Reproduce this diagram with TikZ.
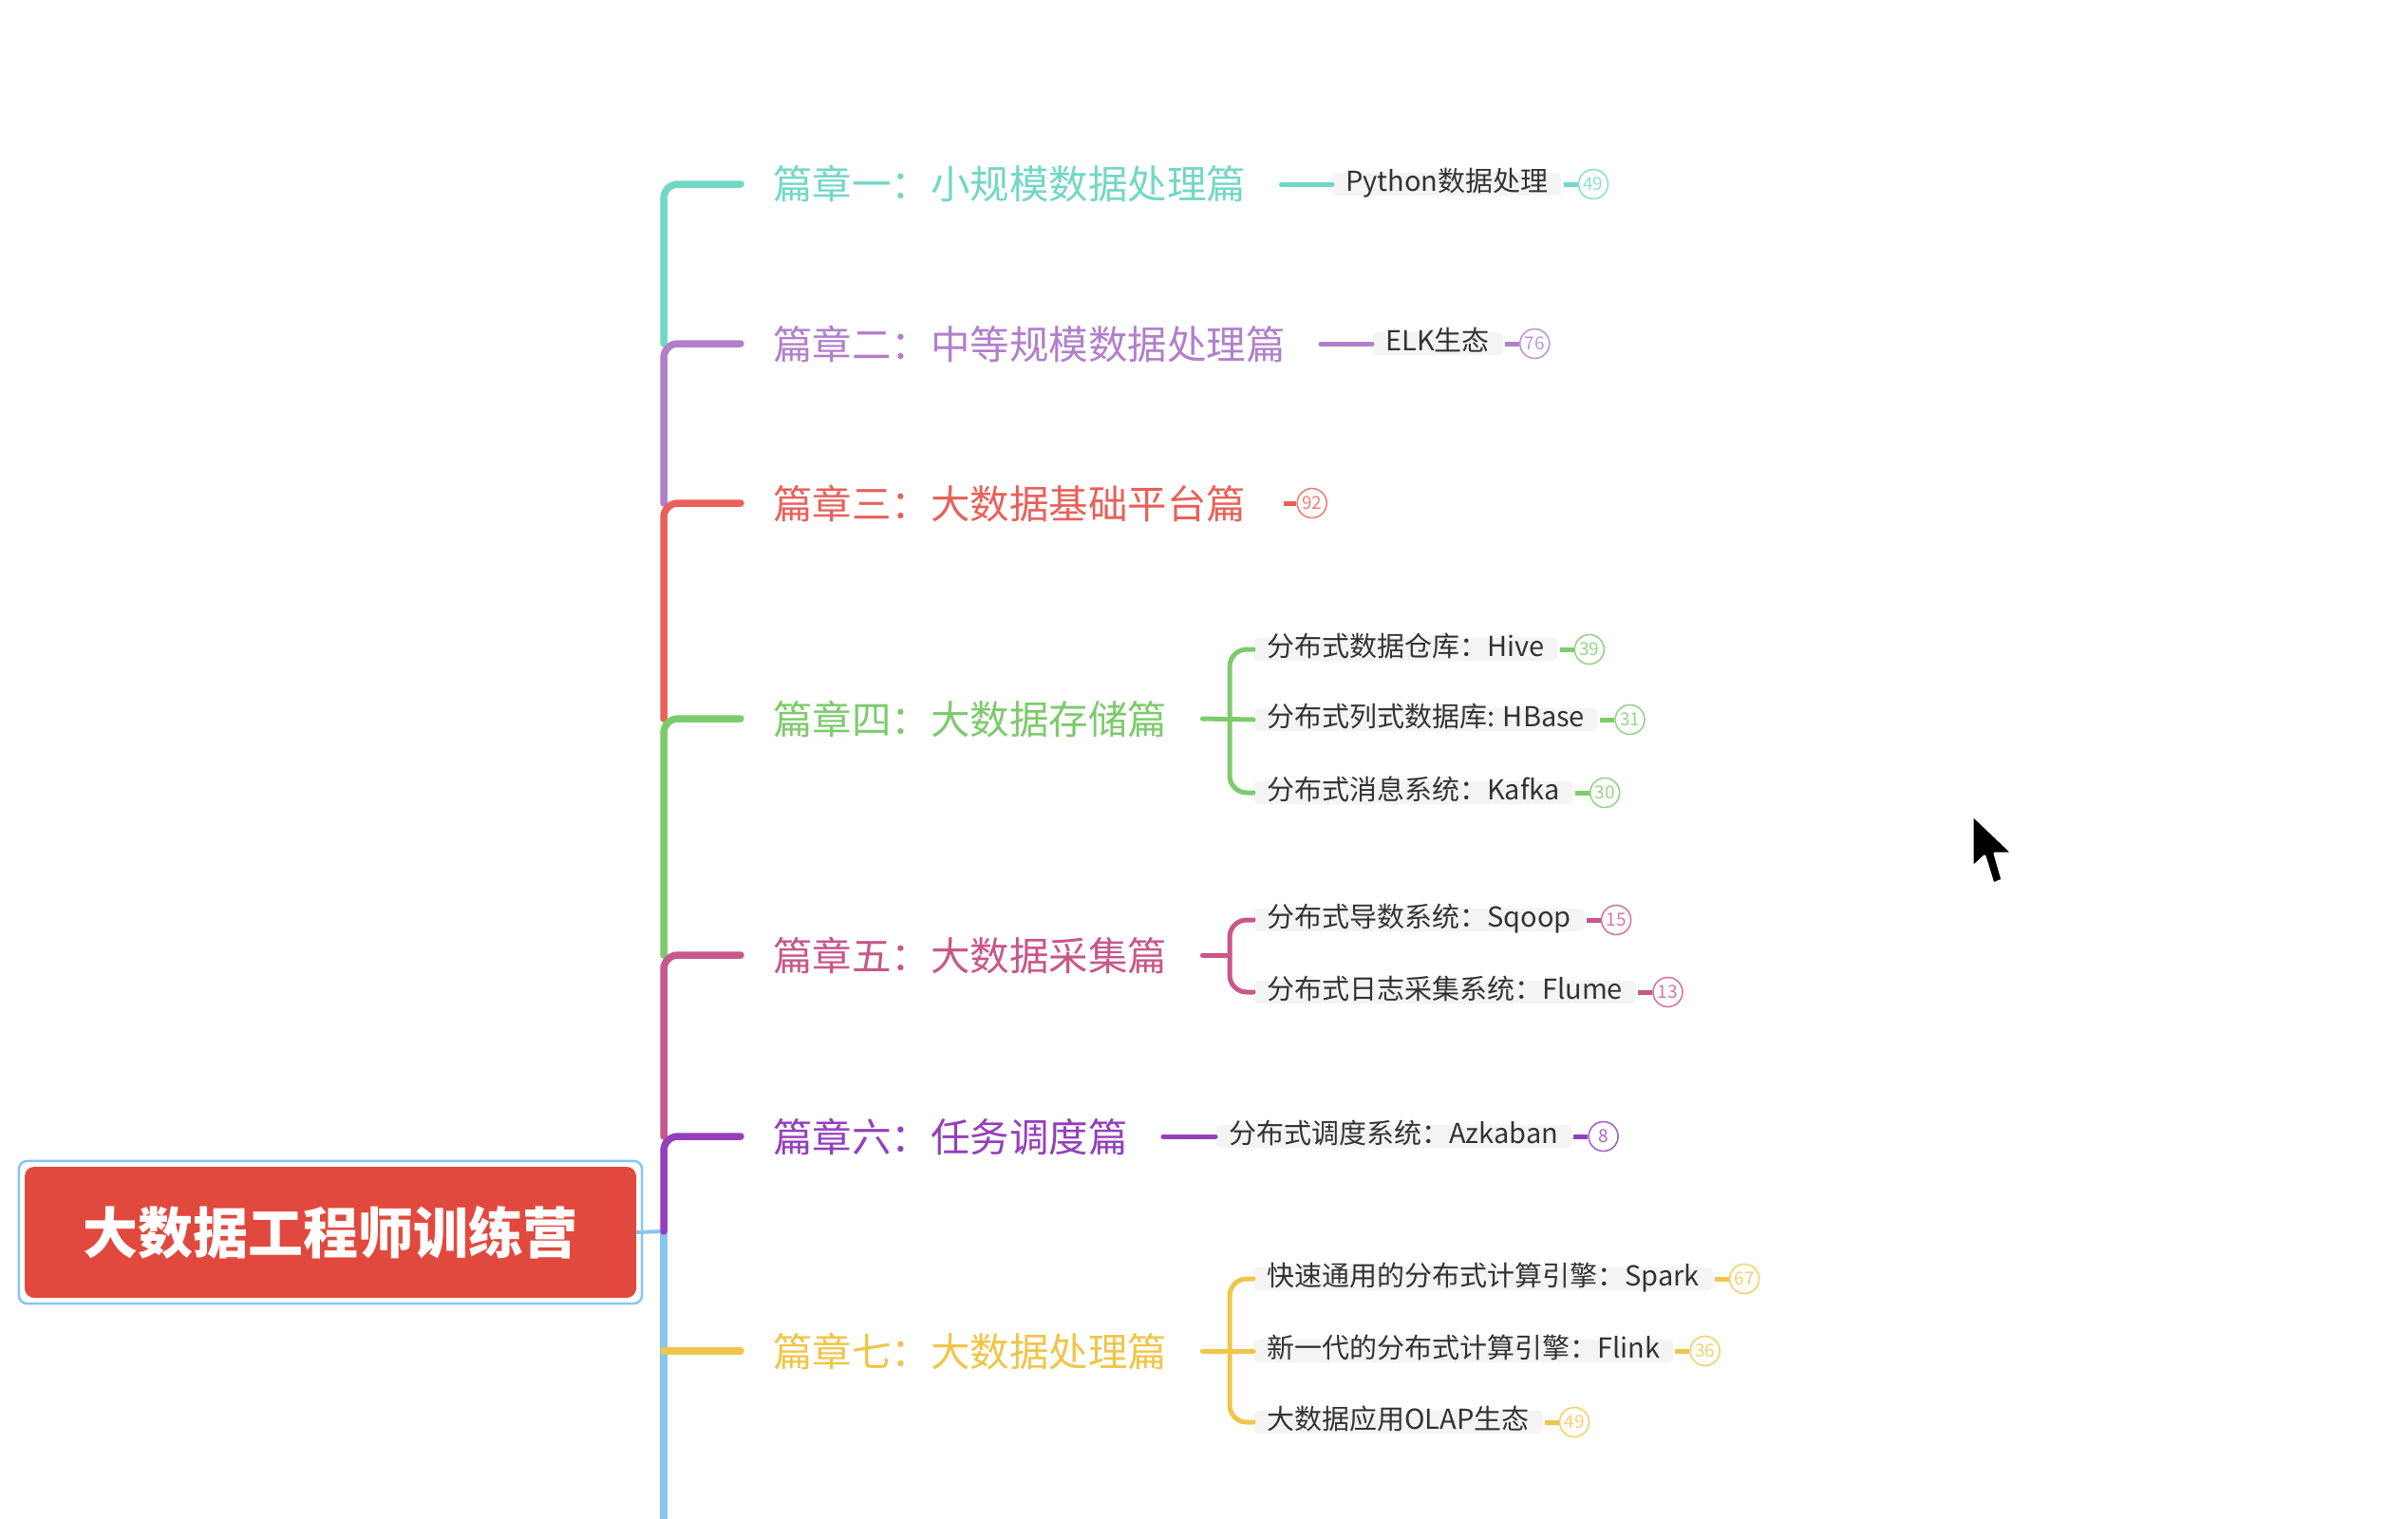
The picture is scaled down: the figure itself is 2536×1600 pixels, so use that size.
\documentclass[tikz,border=0pt]{standalone}
\usepackage{fontspec}
\newfontfamily\cjk{Noto Sans CJK SC}
\definecolor{cA}{HTML}{72D8C4}
\definecolor{cB}{HTML}{B27FCB}
\definecolor{cC}{HTML}{E8615A}
\definecolor{cD}{HTML}{7DCB6C}
\definecolor{cE}{HTML}{C8578A}
\definecolor{cF}{HTML}{9440BB}
\definecolor{cG}{HTML}{F0C649}
\definecolor{rootred}{HTML}{E2493E}
\definecolor{rootblue}{HTML}{86C6F0}
\definecolor{subgray}{HTML}{333333}
\definecolor{boxgray}{HTML}{F4F4F4}
\begin{document}
\begin{tikzpicture}[x=1pt,y=-1pt,
  branch/.style={font=\cjk\fontsize{41.5}{48}\selectfont, anchor=west, inner sep=0pt, text=#1},
  subbox/.style={font=\cjk\fontsize{29}{34}\selectfont, text=subgray, fill=boxgray,
    rounded corners=6pt, inner xsep=14pt, inner ysep=4pt, text height=1.58em, text depth=0.05em, anchor=west},
  badge/.style={circle, draw=#1!80, text=#1!80, line width=1.6pt, minimum size=31pt, inner sep=0pt,
    font=\cjk\fontsize{19}{20}\selectfont, anchor=west},
  stub/.style={draw=#1, line width=7.5pt, line cap=round, rounded corners=15pt},
  subln/.style={draw=#1, line width=5pt, line cap=round, rounded corners=18pt},
  dashln/.style={draw=#1, line width=5pt}
]
\useasboundingbox (0,0) rectangle (2536,1600);
\fill[white] (0,0) rectangle (2536,1600);

% root
\node[fill=rootred, rounded corners=10pt, minimum width=644pt, minimum height=138pt, inner sep=0pt,
      text=white, font=\cjk\bfseries\fontsize{58}{64}\selectfont] (root) at (348,1298) {大数据工程师训练营};
\draw[rootblue, line width=2.5pt, rounded corners=9pt]
  ([shift={(-6,-6)}]root.north west) rectangle ([shift={(6,6)}]root.south east);

\coordinate (T) at (699,1297);
\coordinate (tend) at (699,1615);

% branches
\node[branch=cA] (b1) at (814,194) {篇章一：小规模数据处理篇};
\node[branch=cB] (b2) at (814,362) {篇章二：中等规模数据处理篇};
\node[branch=cC] (b3) at (814,530) {篇章三：大数据基础平台篇};
\node[branch=cD] (b4) at (814,757) {篇章四：大数据存储篇};
\node[branch=cE] (b5) at (814,1006) {篇章五：大数据采集篇};
\node[branch=cF] (b6) at (814,1197) {篇章六：任务调度篇};
\node[branch=cG] (b7) at (814,1423) {篇章七：大数据处理篇};

% trunk
\draw[rootblue, line width=4pt] (root.east) -- (T);
\draw[stub=rootblue] (T) -- (tend);
\draw[stub=cA] (T |- b2.west) |- ([xshift=-34pt]b1.west);
\draw[stub=cB] (T |- b3.west) |- ([xshift=-34pt]b2.west);
\draw[stub=cC] (T |- b4.west) |- ([xshift=-34pt]b3.west);
\draw[stub=cD] (T |- b5.west) |- ([xshift=-34pt]b4.west);
\draw[stub=cE] (T |- b6.west) |- ([xshift=-34pt]b5.west);
\draw[stub=cF] (T) |- ([xshift=-34pt]b6.west);
\draw[stub=cG] (T |- b7.west) -- ([xshift=-34pt]b7.west);

% sub topics
\node[subbox] (s1) at (1403,194) {Python数据处理};
\node[subbox] (s2) at (1445,362) {ELK生态};
\node[subbox] (s41) at (1320,684) {分布式数据仓库：Hive};
\node[subbox] (s42) at (1320,758) {分布式列式数据库: HBase};
\node[subbox] (s43) at (1320,835) {分布式消息系统：Kafka};
\node[subbox] (s51) at (1320,969) {分布式导数系统：Sqoop};
\node[subbox] (s52) at (1320,1045) {分布式日志采集系统：Flume};
\node[subbox] (s6) at (1280,1197) {分布式调度系统：Azkaban};
\node[subbox] (s71) at (1320,1347) {快速通用的分布式计算引擎：Spark};
\node[subbox] (s72) at (1320,1423) {新一代的分布式计算引擎：Flink};
\node[subbox] (s73) at (1320,1498) {大数据应用OLAP生态};

% branch -> sub connectors
\draw[subln=cA] ([xshift=37pt]b1.east) -- (s1.west);
\draw[subln=cB] ([xshift=37pt]b2.east) -- (s2.west);
\draw[subln=cF] ([xshift=37pt]b6.east) -- (s6.west);

\coordinate (h4) at ([xshift=-25pt]s42.west);
\draw[subln=cD] ([xshift=37pt]b4.east) -- (s42.west);
\draw[subln=cD] (s41.west) -| (h4 |- s43.west) -- (s43.west);

\coordinate (h5) at ([xshift=-25pt]s51.west);
\draw[subln=cE] ([xshift=37pt]b5.east) -- (h5 |- b5.west);
\draw[subln=cE] (s51.west) -| (h5 |- s52.west) -- (s52.west);

\coordinate (h7) at ([xshift=-25pt]s72.west);
\draw[subln=cG] ([xshift=37pt]b7.east) -- (s72.west);
\draw[subln=cG] (s71.west) -| (h7 |- s73.west) -- (s73.west);

% badges
\node[badge=cA] (n1) at ([xshift=17pt]s1.east) {49};
\node[badge=cB] (n2) at ([xshift=17pt]s2.east) {76};
\node[badge=cC] (n3) at ([xshift=53pt]b3.east) {92};
\node[badge=cD] (n41) at ([xshift=17pt]s41.east) {39};
\node[badge=cD] (n42) at ([xshift=17pt]s42.east) {31};
\node[badge=cD] (n43) at ([xshift=17pt]s43.east) {30};
\node[badge=cE] (n51) at ([xshift=17pt]s51.east) {15};
\node[badge=cE] (n52) at ([xshift=17pt]s52.east) {13};
\node[badge=cF] (n6) at ([xshift=17pt]s6.east) {8};
\node[badge=cG] (n71) at ([xshift=17pt]s71.east) {67};
\node[badge=cG] (n72) at ([xshift=17pt]s72.east) {36};
\node[badge=cG] (n73) at ([xshift=17pt]s73.east) {49};

\draw[dashln=cA] ([xshift=2pt]s1.east) -- (n1.west);
\draw[dashln=cB] ([xshift=2pt]s2.east) -- (n2.west);
\draw[dashln=cC] ([xshift=-13pt]n3.west) -- (n3.west);
\draw[dashln=cD] ([xshift=2pt]s41.east) -- (n41.west);
\draw[dashln=cD] ([xshift=2pt]s42.east) -- (n42.west);
\draw[dashln=cD] ([xshift=2pt]s43.east) -- (n43.west);
\draw[dashln=cE] ([xshift=2pt]s51.east) -- (n51.west);
\draw[dashln=cE] ([xshift=2pt]s52.east) -- (n52.west);
\draw[dashln=cF] ([xshift=2pt]s6.east) -- (n6.west);
\draw[dashln=cG] ([xshift=2pt]s71.east) -- (n71.west);
\draw[dashln=cG] ([xshift=2pt]s72.east) -- (n72.west);
\draw[dashln=cG] ([xshift=2pt]s73.east) -- (n73.west);

% mouse cursor
\fill[black, draw=white, line width=3pt, line join=round]
  (2077,858) -- (2077,914) -- (2090,902) -- (2099,931) -- (2109,927) -- (2101,899) -- (2120,899) -- cycle;
\end{tikzpicture}
\end{document}
